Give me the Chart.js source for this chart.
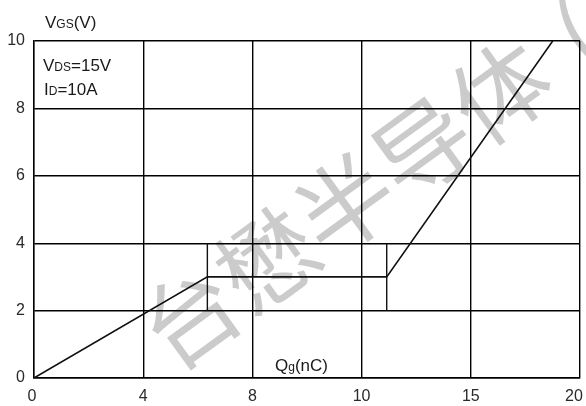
<!DOCTYPE html>
<html>
<head>
<meta charset="utf-8">
<script src="https://cdn.jsdelivr.net/npm/chart.js@4.4.1/dist/chart.umd.min.js"></script>
<style>
html,body{margin:0;padding:0;background:#fff;}
#wrap{width:586px;height:406px;position:relative;}
canvas{display:block;}
</style>
</head>
<body>
<div id="wrap"><canvas id="c" width="586" height="406"></canvas></div>
<script>
// ---- data ----
const xTickLabels = ['0', '4', '8', '10', '15', '20'];
const curveQg  = [0, 6.35, 12.92, 19.0];
const curveVgs = [0, 3, 3, 10];
const plateauStartQg = [6.35, 6.35];
const plateauEndQg   = [12.92, 12.92];
const plateauVgs     = [2, 4];
const conditionLines = [['V', 'DS', '=15V'], ['I', 'D', '=10A']];
const yAxisTitle = ['V', 'GS', '(V)'];
const xAxisTitle = ['Q', 'g', '(nC)'];
const watermarkChars = ['台', '懋', '半', '导', '体', '('];

const FONT = "'Liberation Sans', Arial, sans-serif";
const toPts = (xs, ys) => xs.map((x, i) => ({x: x, y: ys[i]}));

function drawSubText(ctx, x, y, parts, big, small) {
  let cx = x;
  parts.forEach((p, i) => {
    ctx.font = (i === 1 ? small : big) + 'px ' + FONT;
    ctx.fillText(p, cx, y);
    cx += ctx.measureText(p).width;
  });
}

const decor = {
  id: 'decor',
  beforeDraw(chart) {
    const ctx = chart.ctx;
    ctx.save();
    ctx.fillStyle = '#fff';
    ctx.fillRect(0, 0, chart.width, chart.height);
    // watermark: one character per em cell along a slanted baseline
    const em = 96;
    ctx.translate(151, 345);
    ctx.rotate(-36 * Math.PI / 180);
    ctx.fillStyle = '#cbcbcb';
    ctx.font = em + "px 'Noto Sans CJK SC'";
    ctx.textBaseline = 'middle';
    ctx.textAlign = 'center';
    watermarkChars.forEach((ch, i) => ctx.fillText(ch, (i + 0.5) * em, 0));
    ctx.restore();
    // nudge edge tick labels so they stay inside the canvas
    const items = chart.scales.x.getLabelItems();
    if (items.length) {
      items[0].options.translation[0] -= 2;
      items[items.length - 1].options.translation[0] -= 6;
    }
  },
  afterDraw(chart) {
    const ctx = chart.ctx;
    ctx.save();
    ctx.fillStyle = '#1a1a1a';
    ctx.textBaseline = 'alphabetic';
    ctx.textAlign = 'left';
    drawSubText(ctx, 45, 28, yAxisTitle, 17, 12);
    drawSubText(ctx, 43, 71, conditionLines[0], 17, 12);
    drawSubText(ctx, 44, 95, conditionLines[1], 17, 12);
    drawSubText(ctx, 275, 371, xAxisTitle, 17, 12);
    ctx.restore();
  }
};

const lineStyle = {borderColor: '#111', borderWidth: 1.6, pointRadius: 0, fill: false, tension: 0};

new Chart(document.getElementById('c'), {
  type: 'scatter',
  data: {
    datasets: [
      Object.assign({label: 'VGS', data: toPts(curveQg, curveVgs), showLine: true}, lineStyle),
      Object.assign({label: 'plateau start', data: toPts(plateauStartQg, plateauVgs), showLine: true}, lineStyle, {borderWidth: 1.4}),
      Object.assign({label: 'plateau end', data: toPts(plateauEndQg, plateauVgs), showLine: true}, lineStyle, {borderWidth: 1.4})
    ]
  },
  options: {
    responsive: false,
    animation: false,
    devicePixelRatio: 1,
    layout: {padding: {top: 41, right: 6, left: 0, bottom: 0}},
    plugins: {legend: {display: false}, tooltip: {enabled: false}},
    scales: {
      x: {
        type: 'linear', min: 0, max: 20,
        ticks: {
          stepSize: 4, autoSkip: false, maxRotation: 0,
          callback: (v, i) => xTickLabels[i],
          color: '#2a2a2a', font: {family: FONT, size: 16}, padding: 9
        },
        grid: {color: '#000', lineWidth: 1.4, drawTicks: false},
        border: {color: '#000', width: 1.4},
        afterFit(s) { s.height = 28; s.paddingLeft = 0; s.paddingRight = 0; }
      },
      y: {
        type: 'linear', min: 0, max: 10,
        ticks: {stepSize: 2, color: '#2a2a2a', font: {family: FONT, size: 16}, padding: 9},
        grid: {color: '#000', lineWidth: 1.4, drawTicks: false},
        border: {color: '#000', width: 1.4},
        afterFit(s) { s.width = 34; s.paddingTop = 0; s.paddingBottom = 0; }
      }
    }
  },
  plugins: [decor]
});
</script>
</body>
</html>
